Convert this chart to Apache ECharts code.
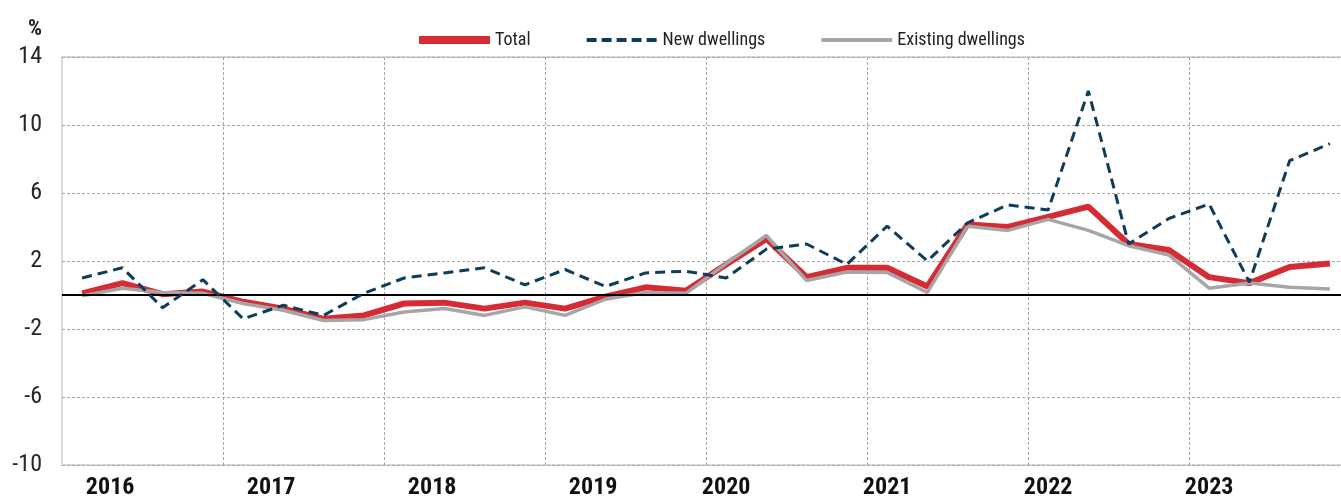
<!DOCTYPE html>
<html>
<head>
<meta charset="utf-8">
<script src="https://cdn.jsdelivr.net/npm/echarts@6/dist/echarts.min.js"></script>
<style>
html,body{margin:0;padding:0;background:#fff;}
#chart{width:1341px;height:501px;}
</style>
</head>
<body>
<div id="chart"></div>
<script>
const years = ['2016','2017','2018','2019','2020','2021','2022','2023'];
const quarters = [];
years.forEach(y => { for (let q = 1; q <= 4; q++) quarters.push(y + 'Q' + q); });

const total = [0.1, 0.7, 0.05, 0.2, -0.4, -0.8, -1.4, -1.2,
  -0.5, -0.45, -0.8, -0.45, -0.8, -0.1, 0.45, 0.25,
  1.8, 3.3, 1.05, 1.6, 1.6, 0.5, 4.15, 4.0,
  4.6, 5.2, 3.0, 2.65, 1.05, 0.7, 1.65, 1.85];
const newDwellings = [1.0, 1.6, -0.75, 0.9, -1.4, -0.6, -1.2, 0.1,
  1.0, 1.3, 1.6, 0.6, 1.5, 0.5, 1.3, 1.4,
  1.0, 2.7, 3.0, 1.8, 4.05, 2.0, 4.25, 5.3,
  5.0, 12.0, 3.0, 4.5, 5.35, 0.75, 7.9, 8.9];
const existing = [-0.05, 0.4, 0.15, 0.1, -0.5, -0.9, -1.5, -1.45,
  -1.0, -0.8, -1.2, -0.7, -1.2, -0.25, 0.15, 0.1,
  1.85, 3.5, 0.85, 1.35, 1.33, 0.15, 4.05, 3.8,
  4.45, 3.8, 2.9, 2.35, 0.4, 0.7, 0.45, 0.35];

const FONT = "'Roboto Condensed', 'DejaVu Sans Condensed', sans-serif";
const RED = '#d52b35', NAVY = '#0e3d5c', GREY = '#a6a6a6';
const yearStyle = {fontFamily: FONT, fontSize: 24, fontWeight: 'bold', color: '#111'};

const chart = echarts.init(document.getElementById('chart'), null, {renderer: 'canvas'});
chart.setOption({
  animation: false,
  backgroundColor: '#fff',
  title: {
    text: '%', left: 23, top: 13,
    textStyle: {fontFamily: FONT, fontSize: 22, fontWeight: 'bold', color: '#222'}
  },
  legend: {
    left: 415, top: 31, padding: 0,
    itemWidth: 71, itemHeight: 14, itemGap: 54,
    itemStyle: {opacity: 0},
    textStyle: {fontFamily: FONT, fontSize: 18, color: '#222', padding: [0, 0, 0, 0]},
    data: [
      {name: 'Total', lineStyle: {width: 8, color: RED}},
      {name: 'New dwellings', lineStyle: {width: 4, color: NAVY, type: [10, 5]}},
      {name: 'Existing dwellings', lineStyle: {width: 4, color: GREY}}
    ]
  },
  grid: {
    left: 62, top: 57, width: 1288, height: 408,
    outerBoundsMode: 'none', containLabel: false,
    show: true, borderColor: '#d9d9d9', borderWidth: 2, backgroundColor: '#fff'
  },
  xAxis: [
    {
      type: 'category', data: quarters, boundaryGap: true, position: 'bottom', gridIndex: 0,
      axisLine: {show: true, lineStyle: {color: '#d9d9d9', width: 2}},
      axisTick: {show: false},
      splitLine: {show: false},
      axisLabel: {
        margin: 11,
        interval: function (i) { return i % 4 === 0; },
        formatter: function (v) {
          const y = v.slice(0, 4);
          return (+y < 2020 ? '{e|' : '{l|') + y + '}';
        },
        rich: {
          e: Object.assign({padding: [0, 0, 0, 56]}, yearStyle),
          l: Object.assign({}, yearStyle)
        }
      }
    },
    {
      type: 'category', data: years, boundaryGap: true, position: 'top', gridIndex: 0,
      axisLine: {show: false}, axisTick: {show: false}, axisLabel: {show: false},
      splitLine: {show: true, interval: function (i) { return i > 0; },
        lineStyle: {color: '#a6a6a6', width: 1, type: [3, 2]}}
    }
  ],
  yAxis: {
    type: 'value', min: -10, max: 14, interval: 4,
    axisLine: {show: false}, axisTick: {show: false},
    axisLabel: {margin: 20, fontFamily: FONT, fontSize: 24, color: '#262626'},
    splitLine: {show: true, lineStyle: {color: '#a6a6a6', width: 1, type: [3, 2]}}
  },
  series: [
    {
      name: 'Total', type: 'line', xAxisIndex: 0, data: total,
      symbol: 'none', z: 3,
      lineStyle: {color: RED, width: 6},
      itemStyle: {color: RED},
      markLine: {
        silent: true, symbol: 'none', label: {show: false},
        lineStyle: {color: '#000', width: 2, type: 'solid'},
        data: [{yAxis: 0}]
      }
    },
    {
      name: 'New dwellings', type: 'line', xAxisIndex: 0, data: newDwellings,
      symbol: 'none', z: 5,
      lineStyle: {color: NAVY, width: 3, type: [10, 6]},
      itemStyle: {color: NAVY}
    },
    {
      name: 'Existing dwellings', type: 'line', xAxisIndex: 0, data: existing,
      symbol: 'none', z: 4,
      lineStyle: {color: GREY, width: 3.5},
      itemStyle: {color: GREY}
    }
  ]
});
</script>
</body>
</html>
